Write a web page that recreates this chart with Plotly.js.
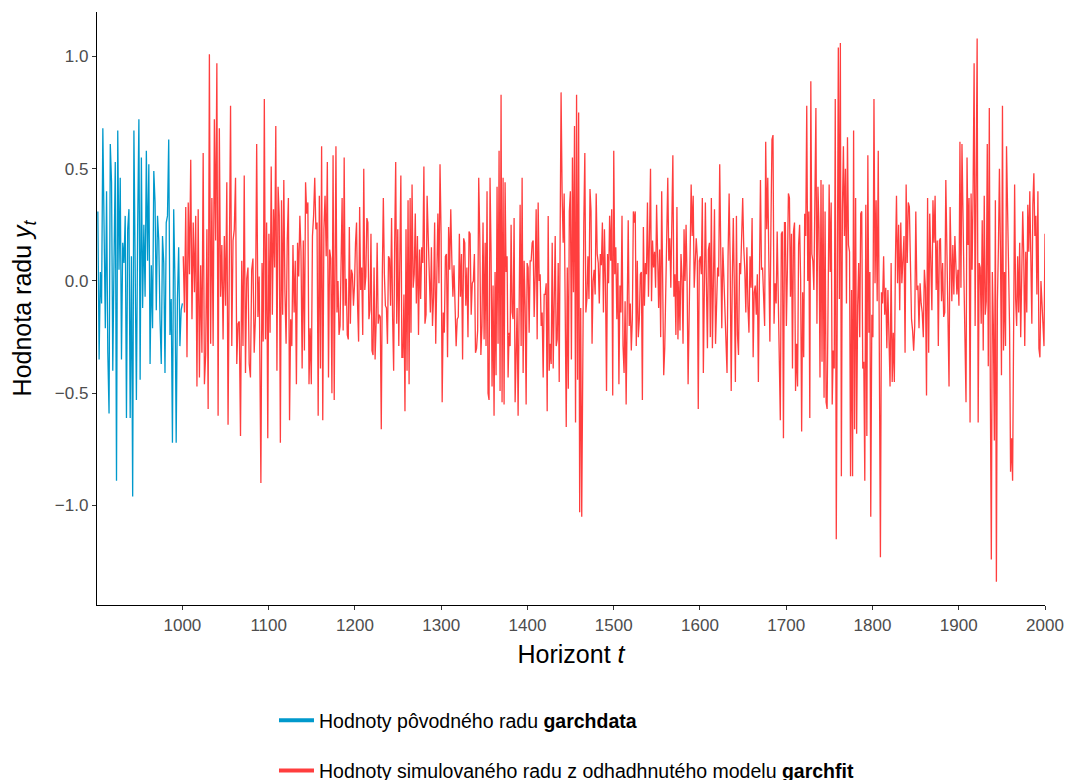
<!DOCTYPE html>
<html><head><meta charset="utf-8">
<script src="https://cdn.plot.ly/plotly-3.0.1.min.js"></script>
<style>html,body{margin:0;padding:0;background:#fff}#chart{width:1075px;height:780px}</style>
</head><body><div id="chart"></div>
<script>
// Original series (garchdata), t = 902 .. 1000
const blueValues = [0.31,-0.35,0.04,-0.10,0.68,0.18,-0.21,0.40,-0.32,-0.59,0.61,0.44,-0.40,0.09,0.53,-0.89,0.67,0.05,0.46,-0.35,0.17,0.08,0.29,-0.61,0.23,0.32,-0.61,0.11,-0.96,0.67,-0.01,-0.53,0.24,0.72,-0.44,0.55,-0.12,0.25,-0.07,0.58,0.09,0.52,-0.37,0.07,-0.21,0.49,0.35,-0.13,0.29,0.18,-0.17,-0.37,0.20,0.08,-0.41,0.26,0.29,0.63,-0.24,-0.08,-0.72,0.32,0.00,-0.72,-0.08,0.15,-0.29,-0.13,-0.10];
const blueSpan = [902, 1000];

// Simulated series (garchfit), in consecutive blocks of the horizon
const red01 = [0.11,-0.14,0.33,-0.34,0.35,0.03,0.54,-0.17,0.26,-0.05,0.29,-0.47,0.32,-0.43,0.07,-0.32,0.57,-0.46,-0.33,0.23,-0.57,1.01,-0.28,0.37,-0.29,0.72,0.18,0.97,-0.60,0.68,-0.07,0.16,-0.26,0.20,-0.11,0.44,-0.64,-0.02,0.78,-0.29,0.18,0.23,0.46,-0.37,-0.19,-0.18,-0.69,0.09,-0.29,0.47,-0.41,0.01,0.06,-0.37,-0.43,0.05,0.10,-0.32,-0.16,0.61,-0.16,0.02];
const red02 = [-0.90,0.08,-0.27,0.81,-0.26,0.26,-0.70,0.21,-0.23,0.51,-0.15,0.32,0.06,0.69,-0.40,0.42,0.29,-0.72,0.36,-0.15,0.45,-0.05,-0.28,0.18,0.37,-0.62,-0.17,-0.29,0.16,-0.14,0.09,-0.46,0.17,0.02,0.29,0.13,-0.39,0.18,-0.31,0.44,0.30,0.35,-0.46,-0.21,-0.46,0.20,0.29,0.46,0.23,0.26,-0.60,0.38,-0.39,0.60,-0.62,0.23,0.38,0.11,0.53,-0.43,0.14,0.10,-0.50,0.56,-0.53];
const red03 = [0.60,-0.14,0.00,-0.24,-0.20,0.08,0.37,-0.22,0.55,-0.11,0.01,-0.24,-0.26,0.24,-0.19,0.05,0.03,-0.11,-0.02,0.17,0.26,-0.11,-0.27,0.33,-0.04,0.06,-0.24,0.50,-0.04,0.02,0.28,0.26,-0.17,-0.13,0.21,-0.31,-0.33,0.06,-0.35,-0.19,0.17,-0.19,-0.15,-0.16,-0.66,0.03,0.37,0.03,-0.11,-0.12,-0.28,0.11,0.10,-0.11,0.28,-0.16,-0.40,0.17,0.53,-0.19,0.23,-0.29,0.25,0.47,-0.34,-0.34,-0.06,-0.58,0.23,-0.40,0.36,-0.46,0.37];
const red04 = [-0.23,0.43,-0.03,0.03,0.30,-0.10,0.20,-0.24,0.14,-0.08,0.15,0.08,0.51,-0.19,-0.15,0.38,0.23,0.08,-0.14,0.15,-0.20,-0.07,0.26,-0.28,-0.04,0.30,-0.01,0.52,0.21,-0.54,-0.14,-0.23,0.11,0.12,-0.34,0.24,0.05,0.32,0.09,-0.07,0.07,-0.09,-0.29,-0.17,-0.16,0.21,-0.07,0.12,-0.35,0.19,0.17,-0.11,0.06,-0.25,0.22,0.21,-0.15,-0.01,0.00,0.12,-0.32,-0.30,-0.22,0.46,0.19,-0.33,-0.20,0.26,-0.26,0.17];
const red05 = [-0.29,0.40,-0.50,-0.53,0.46,0.13,-0.47,-0.02,-0.60,0.04,-0.42,0.42,-0.28,0.58,-0.49,0.83,-0.54,0.46,-0.55,0.44,0.04,0.11,-0.43,-0.23,-0.29,0.25,-0.14,-0.17,0.28,-0.54,-0.26,-0.12,-0.60,-0.23,0.34,-0.29,0.46,-0.41,0.09,-0.11,-0.55,0.08,0.06,-0.23,0.09,0.09,0.17,0.18,-0.16,0.02,0.32,-0.26,0.35,0.00,0.03,-0.20,-0.14,-0.43,-0.06,-0.06,-0.01,-0.58,0.29,-0.40,-0.28,-0.37,0.17,-0.39,-0.05,0.20,-0.29,-0.26,0.08,-0.45,0.26];
const red06 = [0.84,0.39,0.17,0.39,-0.01,-0.65,0.06,-0.48,0.31,0.40,-0.35,0.55,-0.05,0.69,-0.63,0.83,-0.44,0.75,-1.03,-0.12,-1.05,-0.33,0.26,0.57,-0.14,-0.08,0.11,-0.08,0.41,0.31,-0.28,0.00,0.05,-0.06,0.39,0.12,0.08,-0.10,0.12,0.07,0.26,-0.14,0.23,-0.01,-0.49,0.12,-0.01,0.29,0.09,0.32,-0.51,0.58,0.03,0.15,-0.17,0.08,-0.46,-0.02,-0.14,0.29,-0.29,-0.41,-0.09,-0.55,-0.17,0.27,-0.20,-0.10,-0.31,-0.17,0.31,0.26];
const red07 = [0.31,-0.29,0.09,-0.25,-0.17,0.03,0.04,-0.53,0.24,-0.11,0.08,0.03,0.35,-0.07,0.19,0.50,-0.09,0.18,0.06,0.13,-0.03,0.34,0.12,-0.12,0.14,-0.25,0.40,0.06,-0.42,-0.30,-0.05,0.32,0.46,0.09,0.19,-0.03,0.42,0.56,-0.07,0.03,-0.24,0.33,-0.26,0.00,-0.22,0.12,0.02,-0.28,0.23,0.00,0.25,0.00,-0.46,-0.20,0.10,0.43,0.20,0.38,-0.03,0.06,0.19,0.11,-0.57,0.09,0.11,0.03,0.37,-0.41,0.08,0.35,-0.01,-0.30,0.14,0.17];
const red08 = [-0.25,0.37,-0.30,-0.03,0.32,-0.28,-0.14,0.06,0.02,0.52,0.13,-0.21,0.15,0.01,-0.22,-0.28,-0.41,0.11,0.39,0.09,-0.49,0.00,0.28,-0.03,-0.45,0.29,-0.24,-0.33,0.08,0.03,0.17,0.37,0.15,0.05,-0.14,0.15,-0.11,-0.23,0.11,-0.03,0.28,-0.34,-0.05,-0.02,-0.15,0.03,-0.45,0.08,0.45,0.05,0.06,-0.07,-0.20,0.62,0.23,0.46,-0.04,-0.27,0.23,0.63,0.65,-0.19,-0.01,-0.10,0.22,-0.14,-0.26,-0.62,0.21,0.22,-0.70,0.26];
const red09 = [0.26,-0.20,0.05,0.39,0.37,-0.07,0.21,-0.39,0.22,0.26,-0.49,-0.28,-0.47,0.16,0.25,0.01,-0.67,-0.05,-0.34,0.30,0.20,0.78,0.00,0.31,-0.61,0.89,0.12,0.09,-0.04,0.60,0.77,-0.19,0.42,0.24,-0.43,0.45,-0.36,0.43,-0.52,0.31,-0.54,-0.57,0.11,0.43,0.04,0.35,-0.55,-0.31,-0.39,0.81,-1.15,-0.22,1.04,-0.08,1.06,-0.87,0.31,0.60,0.20,0.50,-0.10,0.64,0.16,0.13,-0.87,-0.04,-0.87,0.67,-0.66,0.37,-0.68,-0.11,0.08,-0.25,0.30,0.31,-0.39,-0.36,-0.89,0.34,-0.69,0.56,-0.23,0.04];
const red10 = [-1.05,-0.15,-0.25,0.81,-0.01,0.36,-0.09,0.58,-0.09,-1.23,-0.05,-0.10,0.11,-0.15,-0.03,-0.30,-0.04,-0.23,-0.47,0.08,-0.45,-0.23,-0.45,0.09,0.38,-0.01,0.25,-0.13,0.26,-0.01,0.10,0.20,-0.32,0.43,0.08,0.35,0.33,0.00,-0.17,-0.22,-0.31,-0.20,0.31,-0.04,-0.02,-0.21,-0.01,-0.10,-0.14,-0.25,0.05,-0.03,-0.51,0.37,-0.32,0.30,0.00,-0.13,0.36,0.17,0.38,-0.04,0.18,-0.29,0.18,0.19,-0.09,0.08,-0.16,-0.14,0.45,0.15,-0.03,-0.47,0.33];
const red11 = [-0.09,0.16,-0.06,0.20,0.00,-0.06,0.05,-0.11,0.62,-0.03,0.61,0.18,0.00,-0.27,-0.54,0.55,0.16,0.37,-0.63,0.39,0.05,0.40,0.97,-0.20,0.37,1.08,-0.63,0.08,0.06,-0.19,0.27,-0.31,0.38,-0.15,-0.09,0.61,-0.38,0.77,-0.48,-1.24,0.04,-0.20,-0.71,0.36,-1.34,-0.09,0.15,0.50,0.14,-0.42,0.78,-0.31,0.04,-0.29,0.60,0.26,0.04,-0.20,-0.85,-0.70,-0.89,-0.06,0.43,-0.08,-0.20,0.11,-0.14,0.17,-0.25,0.02,0.31,0.12,-0.29,0.13,-0.14,0.34,0.13,0.40,0.10,-0.19,0.34,0.48,0.20,0.29,-0.06,0.40,-0.30,-0.34,0.00,-0.10,-0.25,-0.29,0.21];

// horizon span of each block: [first t, last t, values]
const redBlocks = [
  [1001, 1089, red01], [1091, 1176, red02], [1178, 1264, red03],
  [1265, 1351, red04], [1352, 1438, red05], [1439, 1524, red06],
  [1525, 1611, red07], [1612, 1698, red08], [1699, 1797, red09],
  [1798, 1890, red10], [1892, 2000, red11]
];

const xTicks = [1000,1100,1200,1300,1400,1500,1600,1700,1800,1900,2000];
const yTicks = [-1, -0.5, 0, 0.5, 1];
const yTickText = ['\u22121.0','\u22120.5','0.0','0.5','1.0'];

const blueName = 'Hodnoty pôvodného radu <b>garchdata</b>';
const redName = 'Hodnoty simulovaného radu z odhadhnutého modelu <b>garchfit</b>';
const blueColor = '#0099CC';
const redColor = '#FF3E3E';

function spanTimes(a, b, n) {
  const out = [];
  for (let i = 0; i < n; i++) out.push(a + i * (b - a) / (n - 1));
  return out;
}

const bx = spanTimes(blueSpan[0], blueSpan[1], blueValues.length);
let rx = [], ry = [];
redBlocks.forEach(([a, b, v]) => { rx = rx.concat(spanTimes(a, b, v.length)); ry = ry.concat(v); });

const font = 'Liberation Sans, Arial, Helvetica, sans-serif';

const traces = [
  {x: bx, y: blueValues, type: 'scatter', mode: 'lines', line: {color: blueColor, width: 1.3}, showlegend: false, hoverinfo: 'skip'},
  {x: rx, y: ry, type: 'scatter', mode: 'lines', line: {color: redColor, width: 1.3}, showlegend: false, hoverinfo: 'skip'},
  {x: [null], y: [null], type: 'scatter', mode: 'lines', line: {color: blueColor, width: 4}, name: blueName, legendgroup: 'a'},
  {x: [null], y: [null], type: 'scatter', mode: 'lines', line: {color: redColor, width: 4}, name: redName, legendgroup: 'b'}
];

const axisCommon = {
  showgrid: false, zeroline: false, showline: true, linecolor: '#000', linewidth: 1.2,
  ticks: 'outside', ticklen: 4, tickwidth: 1, tickcolor: '#333', automargin: true,
  tickfont: {family: font, size: 17, color: '#4d4d4d'}
};

const layout = {
  width: 1075, height: 780,
  paper_bgcolor: '#fff', plot_bgcolor: '#fff',
  margin: {l: 97, r: 30, t: 12, b: 175, autoexpand: false},
  font: {family: font, color: '#000'},
  xaxis: Object.assign({}, axisCommon, {
    range: [901, 2000], tickvals: xTicks, ticktext: xTicks.map(String), tickangle: 0,
    title: {text: 'Horizont <i>t</i>', font: {family: font, size: 25, color: '#000'}, standoff: 12}
  }),
  yaxis: Object.assign({}, axisCommon, {
    range: [-1.443, 1.198], tickvals: yTicks, ticktext: yTickText,
    title: {text: 'Hodnota radu <i>y</i><sub><i>t</i></sub>', font: {family: font, size: 25, color: '#000'}, standoff: 16}
  }),
  showlegend: true,
  legend: {
    orientation: 'v', x: 0.1867, xanchor: 'left', y: -0.1619, yanchor: 'top',
    font: {family: font, size: 19.5, color: '#000'}, tracegroupgap: 22,
    bgcolor: 'rgba(0,0,0,0)', itemwidth: 35
  }
};

Plotly.newPlot('chart', traces, layout, {displayModeBar: false, staticPlot: true});
</script></body></html>
